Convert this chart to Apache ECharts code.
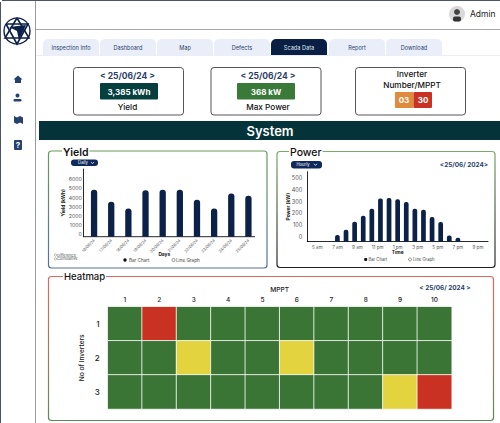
<!DOCTYPE html>
<html>
<head>
<meta charset="utf-8">
<style>
  html, body { margin: 0; padding: 0; background: #fff; }
  #chart { width: 500px; height: 423px; }
</style>
<script src="https://cdn.jsdelivr.net/npm/echarts@6/dist/echarts.min.js"></script>
</head>
<body>
<div id="chart"></div>
<script>
const yieldDays = ['16/06/24', '17/06/24', '18/06/24', '19/06/24', '20/06/24', '21/06/24', '22/06/24', '23/06/24', '24/06/24', '25/06/24'];
const yieldValues = [5130, 3810, 3080, 5090, 5130, 5130, 4030, 3080, 4730, 4470];

const powerHours = ['4 am', '5 am', '6 am', '7 am', '8 am', '9 am', '10 am', '11 am', '12 pm', '1 pm', '2 pm', '3 pm', '4 pm', '5 pm', '6 pm', '7 pm', '8 pm', '9 pm', '10 pm', '11 pm', '12 am'];
const powerValues = [0, 0, 0, 57, 103, 171, 222, 282, 370, 373, 362, 339, 282, 274, 211, 168, 54, 34, 0, 0, 0];
const powerTicks = ['5 am', '7 am', '9 am', '11 pm', '1 pm', '3 pm', '5 pm', '7 pm', '9 pm'];

const mpptCols = ['1', '2', '3', '4', '5', '6', '7', '8', '9', '10'];
const inverterRows = ['1', '2', '3'];
// 0 green, 1 yellow, 2 red
const heatRow1 = [0, 2, 0, 0, 0, 0, 0, 0, 0, 0];
const heatRow2 = [0, 0, 1, 0, 0, 1, 0, 0, 0, 0];
const heatRow3 = [0, 0, 0, 0, 0, 0, 0, 0, 1, 2];

const tabNames = ['Inspection Info', 'Dashboard', 'Map', 'Defects', 'Scada Data', 'Report', 'Download'];

const navy = '#0c2148';
const ink = '#2b3f6b';
const font = 'Inter, "Noto Sans", sans-serif';

function rect(x, y, width, height, fill, r = 0, stroke, lineWidth = 1) {
  return { type: 'rect', shape: { x, y, width, height, r }, style: { fill, stroke, lineWidth } };
}
function line(x1, y1, x2, y2, stroke, lineWidth = 1) {
  return { type: 'line', shape: { x1, y1, x2, y2 }, style: { stroke, lineWidth } };
}
function circle(cx, cy, r, fill, stroke, lineWidth = 0.6) {
  return { type: 'circle', shape: { cx, cy, r }, style: { fill, stroke, lineWidth } };
}
function poly(points, fill) {
  return { type: 'polygon', shape: { points }, style: { fill } };
}
function polyline(points, stroke, lineWidth) {
  return { type: 'polyline', shape: { points }, style: { stroke, lineWidth, fill: 'none' } };
}
function label(x, y, text, size, fill = '#111', weight = 400, align = 'center', extra = {}) {
  return {
    type: 'text',
    x, y,
    style: { text, fill, fontFamily: font, fontSize: size, fontWeight: weight, align, verticalAlign: 'middle', ...extra }
  };
}

function vGradient(top, bottom) {
  return { type: 'linear', x: 0, y: 0, x2: 0, y2: 1, colorStops: [{ offset: 0, color: top }, { offset: 1, color: bottom }] };
}

function chromeItems() {
  const items = [];

  // frame
  items.push(line(0.5, 2, 0.5, 423, '#4a5568', 1));
  items.push(line(2, 0.5, 500, 0.5, '#4a5568', 1));
  items.push(line(35.5, 1, 35.5, 423, '#9a9a9a', 1));
  items.push(line(36, 29.5, 500, 29.5, '#a8a8a8', 1));

  // logo
  items.push(circle(17, 31, 13, 'none', navy, 1.4));
  items.push(polyline([[17, 18], [29, 38], [5, 38], [17, 18]], navy, 1.6));
  items.push(polyline([[6, 24], [28, 24], [17, 44], [6, 24]], navy, 1.6));
  items.push(poly([[9, 27], [26, 25], [19, 40], [17, 31]], navy));

  // nav icons
  items.push(poly([[18, 75.5], [22.5, 79.5], [21, 79.5], [21, 83], [15, 83], [15, 79.5], [13.5, 79.5]], '#24416f'));
  items.push(circle(17.5, 95.5, 2, '#24416f'));
  items.push(rect(13.5, 99, 8, 2.6, '#24416f', 1));
  items.push(poly([[14, 116], [17, 117.5], [20, 116], [23, 117.5], [23, 124], [20, 122.5], [17, 124], [14, 122.5]], '#24416f'));
  items.push(rect(14, 140, 8, 10, '#24416f', 1));
  items.push(label(18, 145.3, '?', 8, '#fff', 700));

  // admin
  items.push(circle(457, 14, 8, '#d9d9d9'));
  items.push(circle(457, 12, 3, '#444'));
  items.push(rect(453, 16.5, 8, 5, '#333', 2));
  items.push(label(470, 14, 'Admin', 8.5, '#222', 400, 'left'));

  // tabs
  const tabLefts = [43, 100, 157, 214, 271, 329, 386];
  tabNames.forEach((name, i) => {
    const active = name === 'Scada Data';
    items.push(rect(tabLefts[i], 39, 56, 16, active ? '#0a1f44' : '#e9eef9', [5, 5, 0, 0]));
    items.push(label(tabLefts[i] + 28, 48, name, 5.6, active ? '#dfe6f2' : ink));
  });
  items.push(line(36, 55.5, 500, 55.5, '#e9eef9', 1));

  // summary cards
  [73.5, 211, 355.5].forEach(x => {
    items.push(rect(x, 67.5, 110, 47.5, '#fff', 3, '#555', 1));
  });
  items.push(label(127.5, 76, '< 25/06/24 >', 8.5, ink, 700));
  items.push(rect(100, 83, 58, 16.5, '#05403f', 1));
  items.push(label(129, 91.5, '3,385 kWh', 8, '#fff', 700));
  items.push(label(127.5, 106.5, 'Yield', 8.2, '#111', 500));
  items.push(label(268, 76, '< 25/06/24 >', 8.5, ink, 700));
  items.push(rect(237, 83, 58, 16.5, '#3a7a38', 1));
  items.push(label(266, 91.5, '368 kW', 8, '#fff', 700));
  items.push(label(268, 106.5, 'Max Power', 8.2, '#111', 500));
  items.push(label(412, 74, 'Inverter', 8.2, '#111', 500));
  items.push(label(412, 85, 'Number/MPPT', 8.2, '#111', 500));
  items.push(rect(395, 92, 18.5, 16, '#e08a3c', 1));
  items.push(rect(413.5, 92, 18.5, 16, '#c93122', 1));
  items.push(label(404, 100, '03', 8, '#fff', 700));
  items.push(label(423, 100, '30', 8, '#fff', 700));

  // system band
  items.push(rect(39, 121, 461, 19, '#04343a'));
  items.push(label(270, 131, 'System', 13, '#fff', 600));

  // panels
  items.push(rect(48.5, 151, 218.5, 117, '#fff', 3, vGradient('#6a9a5a', '#566f99'), 1.2));
  items.push(rect(277, 151.5, 218, 116, '#fff', 3, vGradient('#7aa866', '#222'), 1.2));
  items.push(rect(48.5, 276.5, 445, 144, '#fff', 3, vGradient('#dc6a5c', '#5d8a5d'), 1.2));
  items.push(label(62, 152, 'Yield', 10.5, '#111', 600, 'left', { backgroundColor: '#fff', padding: [0, 1] }));
  items.push(label(289, 152, 'Power', 10.5, '#111', 500, 'left', { backgroundColor: '#fff', padding: [0, 1] }));
  items.push(label(63, 276.5, 'Heatmap', 9.5, '#111', 500, 'left', { backgroundColor: '#fff', padding: [0, 1] }));

  // dropdowns
  items.push(rect(71, 159.5, 27, 6.5, '#0f2a5a', 3));
  items.push(label(83, 162.9, 'Daily', 4.2, '#fff'));
  items.push(polyline([[91, 162], [92.5, 163.6], [94, 162]], '#fff', 0.7));
  items.push(rect(291, 161, 31, 7.5, '#0f2a5a', 3));
  items.push(label(303, 164.9, 'Hourly', 4.2, '#fff'));
  items.push(polyline([[314, 163.8], [315.5, 165.4], [317, 163.8]], '#fff', 0.8));

  // dates on panels
  items.push(label(464, 164.7, '<25/06/ 2024>', 6.4, ink, 700));
  items.push(label(445, 288, '< 25/06/ 2024 >', 6.4, ink, 700));

  // yield legend
  items.push(circle(125, 260, 1.7, '#111'));
  items.push(label(129, 260, 'Bar Chart', 4.6, '#444', 400, 'left'));
  items.push(circle(173.5, 260, 1.6, '#fff', '#444'));
  items.push(label(176, 260, 'Line Graph', 4.6, '#444', 400, 'left'));
  items.push(circle(55.5, 255, 1.2, '#fff', '#555', 0.4));
  items.push(label(57, 255, 'Difference', 3.9, '#555', 400, 'left'));
  items.push(circle(55.5, 258.8, 1.2, '#fff', '#555', 0.4));
  items.push(label(57, 258.8, 'Cumulative', 3.9, '#555', 400, 'left'));

  // power legend
  items.push(circle(365.7, 259.5, 1.6, '#111'));
  items.push(label(368.5, 259.5, 'Bar Chart', 4.2, '#444', 400, 'left'));
  items.push(circle(410, 259.5, 1.5, '#fff', '#444'));
  items.push(label(413, 259.5, 'Line Graph', 4.2, '#444', 400, 'left'));

  // yield baseline, the y axis sits a little left of the first band
  items.push(line(83.3, 236.7, 255, 236.7, '#111', 0.9));

  return items;
}

const heatData = [heatRow1, heatRow2, heatRow3].flatMap((row, y) => row.map((v, x) => [x, y, v]));

const tickStyle = { color: '#555', fontSize: 5.6, fontFamily: font };

const chart = echarts.init(document.getElementById('chart'), null, { renderer: 'svg' });
chart.setOption({
  animation: false,
  backgroundColor: '#fff',
  graphic: { elements: chromeItems() },
  grid: [
    { left: 85.5, top: 169, width: 171.5, height: 67.7 },
    { left: 307.3, top: 171.7, width: 180.7, height: 70 },
    { left: 107.7, top: 306.7, width: 344, height: 102.3 }
  ],
  xAxis: [
    {
      type: 'category',
      gridIndex: 0,
      data: yieldDays,
      name: 'Days',
      nameLocation: 'middle',
      nameGap: 15,
      nameMoveOverlap: false,
      nameTextStyle: { color: '#111', fontSize: 4.8, fontWeight: 700, fontFamily: font, padding: [0, 14, 0, 0] },
      axisLine: { show: false },
      axisTick: { show: false },
      axisLabel: { ...tickStyle, fontSize: 3.9, rotate: 45, margin: 3, interval: 0 }
    },
    {
      type: 'category',
      gridIndex: 1,
      data: powerHours,
      axisLine: { lineStyle: { color: '#111', width: 0.9 } },
      axisTick: { show: false },
      axisLabel: { show: false }
    },
    {
      type: 'category',
      gridIndex: 1,
      position: 'bottom',
      data: powerTicks,
      name: 'Time',
      nameLocation: 'middle',
      nameGap: 7.5,
      nameMoveOverlap: false,
      nameTextStyle: { color: '#111', fontSize: 4.8, fontWeight: 700, fontFamily: font },
      axisLine: { show: false },
      axisTick: { show: false },
      axisLabel: { ...tickStyle, fontSize: 4.6, margin: 3, interval: 0 }
    },
    {
      type: 'category',
      gridIndex: 2,
      position: 'top',
      data: mpptCols,
      name: 'MPPT',
      nameLocation: 'middle',
      nameGap: 13,
      nameMoveOverlap: false,
      nameTextStyle: { color: '#222', fontSize: 6.6, fontWeight: 500, fontFamily: font },
      axisLine: { show: false },
      axisTick: { show: false },
      splitLine: { show: false },
      axisLabel: { color: '#222', fontSize: 6.5, fontWeight: 500, fontFamily: font, margin: 3, interval: 0 }
    }
  ],
  yAxis: [
    {
      type: 'value',
      gridIndex: 0,
      min: 0,
      max: 7400,
      interval: 1000,
      offset: 2.2,
      name: 'Yield (kWh)',
      nameLocation: 'middle',
      nameGap: 17.5,
      nameMoveOverlap: false,
      nameTextStyle: { color: '#111', fontSize: 4.8, fontWeight: 700, fontFamily: font },
      axisLine: { show: true, lineStyle: { color: '#111', width: 0.9 } },
      axisTick: { show: false },
      splitLine: { show: false },
      axisLabel: {
        ...tickStyle,
        fontSize: 5.2,
        margin: 1.5,
        verticalAlign: 'bottom',
        formatter: v => (v <= 6000 ? String(v) : '')
      }
    },
    {
      type: 'value',
      gridIndex: 1,
      min: 0,
      max: 598,
      interval: 100,
      name: 'Power (kW)',
      nameLocation: 'middle',
      nameGap: 17,
      nameMoveOverlap: false,
      nameTextStyle: { color: '#111', fontSize: 4.8, fontWeight: 700, fontFamily: font },
      axisLine: { show: true, lineStyle: { color: '#111', width: 0.9 } },
      axisTick: { show: false },
      splitLine: { show: false },
      axisLabel: {
        ...tickStyle,
        margin: 5,
        verticalAlign: 'bottom',
        padding: [0, 0, 2, 0],
        formatter: v => (v <= 500 ? String(v) : '')
      }
    },
    {
      type: 'category',
      gridIndex: 2,
      inverse: true,
      data: inverterRows,
      name: 'No of Inverters',
      nameLocation: 'middle',
      nameGap: 22.5,
      nameMoveOverlap: false,
      nameTextStyle: { color: '#222', fontSize: 6.6, fontWeight: 500, fontFamily: font },
      axisLine: { show: false },
      axisTick: { show: false },
      splitLine: { show: false },
      axisLabel: { color: '#222', fontSize: 8, fontWeight: 500, fontFamily: font, margin: 8 }
    }
  ],
  visualMap: {
    show: false,
    type: 'piecewise',
    seriesIndex: 2,
    dimension: 2,
    pieces: [
      { value: 0, color: '#3a7535' },
      { value: 1, color: '#e3d43f' },
      { value: 2, color: '#c93122' }
    ]
  },
  series: [
    {
      name: 'Yield',
      type: 'bar',
      xAxisIndex: 0,
      yAxisIndex: 0,
      data: yieldValues,
      barWidth: 6.3,
      itemStyle: { color: navy, borderRadius: [3, 3, 0, 0] }
    },
    {
      name: 'Power',
      type: 'bar',
      xAxisIndex: 1,
      yAxisIndex: 1,
      data: powerValues,
      barWidth: 4.7,
      itemStyle: { color: navy, borderRadius: [2, 2, 0, 0] }
    },
    {
      name: 'Heatmap',
      type: 'heatmap',
      xAxisIndex: 3,
      yAxisIndex: 2,
      data: heatData,
      itemStyle: { borderColor: '#fff', borderWidth: 0.8 }
    }
  ]
});
</script>
</body>
</html>
